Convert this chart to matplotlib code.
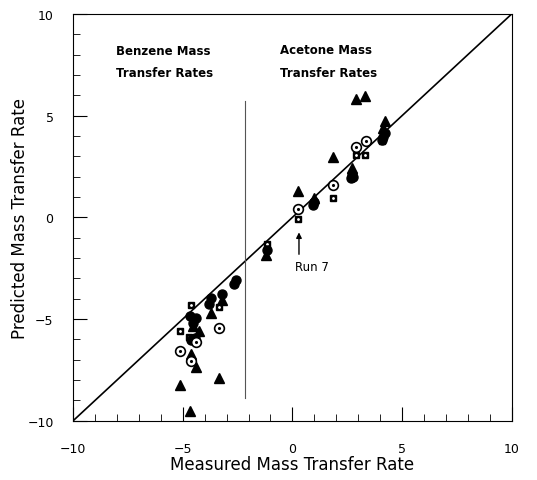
import numpy as np
import matplotlib
matplotlib.use("Agg")
import matplotlib.pyplot as plt
from matplotlib.ticker import MultipleLocator

# measured vs predicted
tri_x = [-4.68, -5.14, -3.36, -4.41, -4.64, -4.27, -3.73, -3.23, -4.55,
         -1.2, 0.27, 1.0, 1.86, 2.7, 2.9, 3.3, 4.2, 4.15]
tri_y = [-9.53, -8.26, -7.91, -7.37, -6.73, -5.6, -4.72, -4.08, -5.35,
         -1.85, 1.28, 0.95, 2.95, 2.45, 5.8, 5.95, 4.75, 4.4]

sq_x = [-4.64, -5.14, -3.36, -4.7, -1.15, 0.27, 1.86, 2.9, 3.3, 4.1]
sq_y = [-4.32, -5.6, -4.42, -5.9, -1.3, -0.1, 0.93, 3.05, 3.05, 3.75]

ring_x = [-3.36, -4.41, -5.14, -4.64, 0.27, 1.86, 2.9, 3.36]
ring_y = [-5.45, -6.14, -6.58, -7.08, 0.39, 1.57, 3.44, 3.73]

dot_x = [-4.41, -4.55, -4.68, -4.64, -4.45, -3.73, -3.82, -3.23, -2.59, -2.64,
         -1.18, 1.0, 0.95, 2.7, 2.65, 2.75, 4.2, 4.15, 4.1]
dot_y = [-4.96, -5.2, -4.86, -6.04, -5.95, -3.98, -4.27, -3.78, -3.1, -3.29,
         -1.6, 0.75, 0.6, 2.15, 1.95, 2.0, 4.15, 3.95, 3.8]

sep_x = -2.18
sep_y = [-8.9, 5.7]

fig = plt.figure(figsize=(5.37, 4.81), dpi=100)
ax = fig.add_axes([0.136, 0.123, 0.817, 0.846])

ax.plot([-10, 10], [-10, 10], color="black", linewidth=1.2)
ax.plot([sep_x, sep_x], sep_y, color="#555555", linewidth=0.8)

ax.plot(tri_x, tri_y, '^', color="black", markersize=6.5, linestyle="none")
ax.plot(sq_x, sq_y, 's', color="black", markersize=5, linestyle="none")
ax.plot(sq_x, sq_y, '.', color="white", markersize=2, linestyle="none")
ax.plot(dot_x, dot_y, 'o', color="black", markersize=6.5, linestyle="none")
ax.plot(ring_x, ring_y, 'o', markerfacecolor="white", markeredgecolor="black",
        markeredgewidth=1.2, markersize=7, linestyle="none")
ax.plot(ring_x, ring_y, '.', color="black", markersize=2.5, linestyle="none")

ax.text(-8.05, 8.2, "Benzene Mass", fontsize=8.5, va="center", fontweight="semibold")
ax.text(-8.05, 7.1, "Transfer Rates", fontsize=8.5, va="center", fontweight="semibold")
ax.text(-0.55, 8.25, "Acetone Mass", fontsize=8.5, va="center", fontweight="semibold")
ax.text(-0.55, 7.1, "Transfer Rates", fontsize=8.5, va="center", fontweight="semibold")

ax.annotate("", xy=(0.3, -0.6), xytext=(0.3, -1.95),
            arrowprops=dict(arrowstyle="-|>", color="black", lw=1, mutation_scale=8))
ax.text(0.1, -2.4, "Run 7", fontsize=8.5, va="center")

ax.set_xlim(-10, 10)
ax.set_ylim(-10, 10)
ax.xaxis.set_major_locator(MultipleLocator(5))
ax.yaxis.set_major_locator(MultipleLocator(5))
ax.xaxis.set_minor_locator(MultipleLocator(1))
ax.yaxis.set_minor_locator(MultipleLocator(1))
ax.tick_params(which="both", direction="in", top=False, right=False, labelsize=9)
ax.tick_params(axis="x", which="both", pad=15)
ax.tick_params(axis="y", which="both", pad=14)
ax.tick_params(which="major", length=10)
ax.tick_params(which="minor", length=5)

ax.set_xlabel("Measured Mass Transfer Rate", fontsize=12)
ax.set_ylabel("Predicted Mass Transfer Rate", fontsize=12)
ax.xaxis.set_label_coords(0.5, -0.085)
ax.yaxis.set_label_coords(-0.1, 0.5)

fig.savefig("out.png", dpi=100)
